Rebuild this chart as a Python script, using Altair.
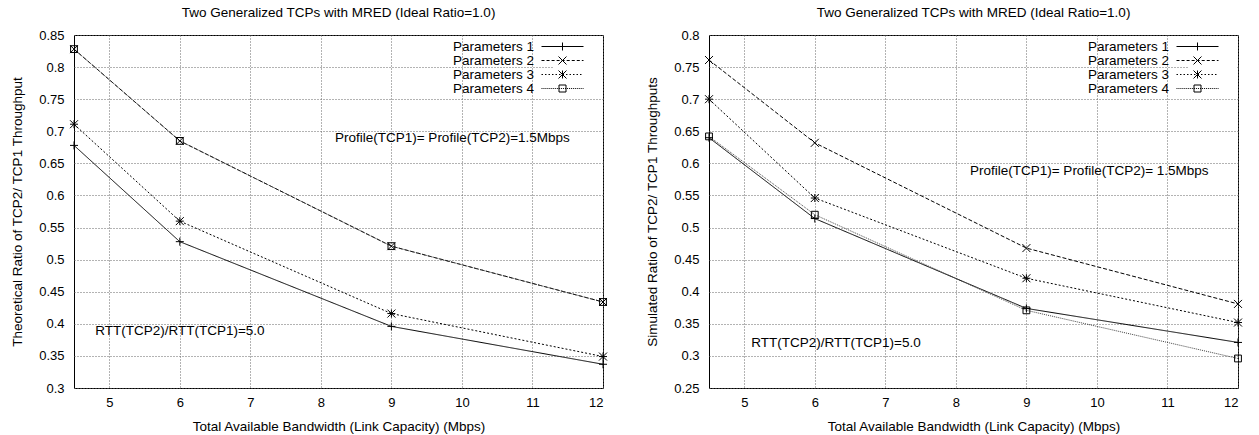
import altair as alt
import pandas as pd

# ---------------- data ----------------
bandwidth = [4.5, 6, 9, 12]
series_names = ["Parameters 1", "Parameters 2", "Parameters 3", "Parameters 4"]

theo_p1 = [0.678, 0.528, 0.396, 0.337]
theo_p2 = [0.828, 0.685, 0.521, 0.434]
theo_p3 = [0.711, 0.560, 0.416, 0.349]
theo_p4 = [0.828, 0.685, 0.521, 0.434]

sim_p1 = [0.640, 0.514, 0.374, 0.321]
sim_p2 = [0.761, 0.632, 0.468, 0.381]
sim_p3 = [0.700, 0.546, 0.421, 0.352]
sim_p4 = [0.642, 0.520, 0.371, 0.296]

x_ticks = [5, 6, 7, 8, 9, 10, 11, 12]
theo_y_ticks = [0.3, 0.35, 0.4, 0.45, 0.5, 0.55, 0.6, 0.65, 0.7, 0.75, 0.8, 0.85]
sim_y_ticks = [0.25, 0.3, 0.35, 0.4, 0.45, 0.5, 0.55, 0.6, 0.65, 0.7, 0.75, 0.8]

chart_title = "Two Generalized TCPs with MRED (Ideal Ratio=1.0)"
x_title = "Total Available Bandwidth (Link Capacity) (Mbps)"
theo_y_title = "Theoretical Ratio of TCP2/ TCP1  Throughput"
sim_y_title = "Simulated Ratio of TCP2/ TCP1 Throughputs"

theo_notes_text = ["Profile(TCP1)= Profile(TCP2)=1.5Mbps", "RTT(TCP2)/RTT(TCP1)=5.0"]
theo_notes_x = [8.2, 4.8]
theo_notes_y = [0.69, 0.389]
sim_notes_text = ["Profile(TCP1)= Profile(TCP2)= 1.5Mbps", "RTT(TCP2)/RTT(TCP1)=5.0"]
sim_notes_x = [8.2, 5.1]
sim_notes_y = [0.588, 0.32]

FONT = "Liberation Sans"

# ---------------- styles ----------------
line_dashes = [[1, 0], [4, 2], [2, 2], [1, 1]]
line_colors = ["#000000", "#000000", "#000000", "#444444"]

PLUS = "M-1,0H1M0,-1V1"
CROSS = "M-1,-1L1,1M-1,1L1,-1"
STAR = PLUS + CROSS
SQUARE = "M-0.85,-0.85H0.85V0.85H-0.85Z"
marker_paths = [PLUS, CROSS, STAR, SQUARE]

# legend key: 1 unit = 7 px (symbol size 196); line spans -3..3 units
LEG_SIZE = 196


def dashed_segment(dash, gap):
    parts = []
    pos = -3.0
    while pos < 3.0:
        end = min(pos + dash, 3.0)
        parts.append(f"M{pos:.3f},0H{end:.3f}")
        pos = end + gap
    return "".join(parts)


mk = 0.57
sq = 0.5
leg_plus = f"M0,{-mk}V{mk}"
leg_cross = f"M{-mk},{-mk}L{mk},{mk}M{-mk},{mk}L{mk},{-mk}"
leg_square = f"M{-sq},{-sq}H{sq}V{sq}H{-sq}Z"
pad_bounds = "M4.8,0M-18.5,0"  # invisible moves widen the legend's white box
legend_paths = [
    pad_bounds + "M-3,0H3" + leg_plus,
    pad_bounds + dashed_segment(0.43, 0.29) + leg_cross,
    pad_bounds + dashed_segment(0.21, 0.29) + leg_plus + leg_cross,
    pad_bounds + dashed_segment(0.14, 0.14) + leg_square,
]


def make_df(values):
    rows = []
    for name, ys in zip(series_names, values):
        for xv, yv in zip(bandwidth, ys):
            rows.append({"bw": xv, "ratio": yv, "series": name})
    return pd.DataFrame(rows)


def panel(values, y_ticks, y_title, notes_text, notes_x, notes_y):
    df = make_df(values)
    xenc = alt.X("bw:Q", scale=alt.Scale(domain=[4.5, 12], nice=False, zero=False),
                 axis=alt.Axis(values=x_ticks, format="d", title=x_title, labelOverlap=False))
    yenc = alt.Y("ratio:Q", scale=alt.Scale(domain=[y_ticks[0], y_ticks[-1]], nice=False, zero=False),
                 axis=alt.Axis(values=y_ticks, format=".2~f", title=y_title, labelOverlap=False,
                               tickCount=len(y_ticks)))

    lines = alt.Chart(df).mark_line(strokeWidth=1).encode(
        x=xenc, y=yenc,
        strokeDash=alt.StrokeDash("series:N", scale=alt.Scale(domain=series_names, range=line_dashes), legend=None),
        color=alt.Color("series:N", scale=alt.Scale(domain=series_names, range=line_colors), legend=None),
        order="bw:Q",
    )
    points = alt.Chart(df).mark_point(filled=False, color="black", strokeWidth=1, size=64, opacity=1).encode(
        x=xenc, y=yenc,
        shape=alt.Shape("series:N", scale=alt.Scale(domain=series_names, range=marker_paths), legend=None),
    )
    legend_layer = alt.Chart(df).transform_filter("false").mark_point(
        filled=False, color="black", strokeWidth=1, size=LEG_SIZE, opacity=1
    ).encode(
        x=xenc, y=yenc,
        shape=alt.Shape("series:N", scale=alt.Scale(domain=series_names, range=legend_paths),
                        legend=alt.Legend(title=None, orient="top-right", offset=2, fillColor="white",
                                          padding=2, labelAlign="right", labelOffset={"expr": "-36"},
                                          symbolSize=LEG_SIZE, symbolStrokeWidth=1, symbolStrokeColor="black",
                                          labelFontSize=13.5, labelFont=FONT, labelColor="black",
                                          rowPadding=0, labelLimit=0)),
    )
    notes_df = pd.DataFrame({"x": notes_x, "y": notes_y, "t": notes_text})
    notes = alt.Chart(notes_df).mark_text(align="left", baseline="middle", fontSize=13.5, font=FONT,
                                          color="black").encode(
        x=alt.X("x:Q"), y=alt.Y("y:Q"), text="t:N")

    return alt.layer(lines, points, legend_layer, notes).resolve_scale(shape="independent").properties(
        width=529, height=353,
        title=alt.TitleParams(chart_title, fontSize=13.5, font=FONT, fontWeight="normal", frame="group",
                              offset=10, color="black"),
    )


left = panel([theo_p1, theo_p2, theo_p3, theo_p4], theo_y_ticks, theo_y_title,
             theo_notes_text, theo_notes_x, theo_notes_y)
right = panel([sim_p1, sim_p2, sim_p3, sim_p4], sim_y_ticks, sim_y_title,
              sim_notes_text, sim_notes_x, sim_notes_y)

chart = alt.hconcat(left, right, spacing=35).properties(
    padding={"left": 10, "top": 5, "right": 5, "bottom": 5}
).configure_view(stroke="black", strokeWidth=1).configure_axis(
    grid=True, gridDash=[1, 2], gridColor="#666666", gridWidth=1, ticks=False, domain=False,
    labelFont=FONT, labelFontSize=13, labelColor="black", labelPadding=8, labelOverlap=False,
    titleFont=FONT, titleFontSize=13.5, titleFontWeight="normal", titleColor="black", titlePadding=10,
).configure_axisY(labelPadding=10, titlePadding=14)

chart.save("out.html", embed_options={"renderer": "svg", "actions": False})
